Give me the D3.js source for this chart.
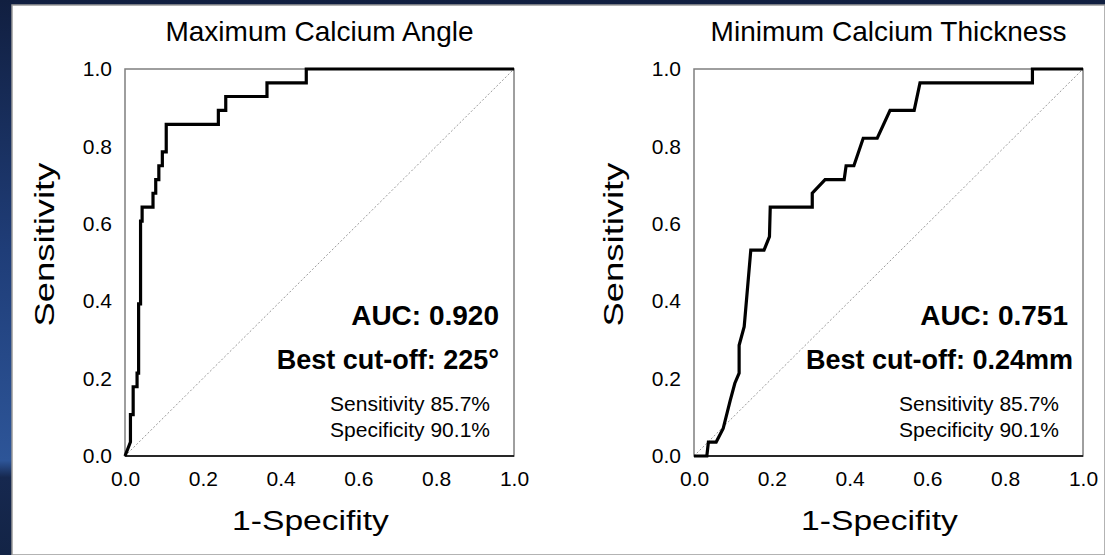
<!DOCTYPE html>
<html>
<head>
<meta charset="utf-8">
<script src="https://cdn.jsdelivr.net/npm/d3@7"></script>
<style>
  body { margin: 0; background: #13254a; }
  svg text { font-family: "Liberation Sans", Arial, sans-serif; fill: #000; }
</style>
</head>
<body>
<div id="chart"></div>
<script>
//svg size
var svgWidth = 1105;
var svgHeight = 555;

//ROC curve for maximum calcium angle (1-specificity, sensitivity)
var angleFpr = [0, 0.014, 0.014, 0.021, 0.021, 0.031, 0.031, 0.035, 0.035, 0.040, 0.040, 0.044, 0.044, 0.072, 0.072, 0.079, 0.079, 0.087, 0.087, 0.096, 0.096, 0.106, 0.106, 0.240, 0.240, 0.259, 0.259, 0.365, 0.365, 0.466, 0.466, 1];
var angleTpr = [0, 0.036, 0.107, 0.107, 0.179, 0.179, 0.214, 0.214, 0.393, 0.393, 0.607, 0.607, 0.643, 0.643, 0.679, 0.679, 0.714, 0.714, 0.750, 0.750, 0.786, 0.786, 0.857, 0.857, 0.893, 0.893, 0.929, 0.929, 0.964, 0.964, 1, 1];

//ROC curve for minimum calcium thickness
var thickFpr = [0, 0.033, 0.037, 0.057, 0.075, 0.093, 0.105, 0.116, 0.116, 0.129, 0.131, 0.146, 0.180, 0.194, 0.196, 0.304, 0.304, 0.337, 0.386, 0.391, 0.411, 0.435, 0.471, 0.504, 0.566, 0.581, 0.870, 0.870, 1];
var thickTpr = [0, 0, 0.036, 0.036, 0.071, 0.143, 0.188, 0.214, 0.286, 0.334, 0.357, 0.532, 0.532, 0.567, 0.643, 0.643, 0.679, 0.714, 0.714, 0.750, 0.750, 0.821, 0.821, 0.893, 0.893, 0.964, 0.964, 1, 1];

var chartTitles = ["Maximum Calcium Angle", "Minimum Calcium Thickness"];
var aucLabels = ["AUC: 0.920", "AUC: 0.751"];
var cutoffLabels = ["Best cut-off: 225°", "Best cut-off: 0.24mm"];
var sensLabels = ["Sensitivity 85.7%", "Sensitivity 85.7%"];
var specLabels = ["Specificity 90.1%", "Specificity 90.1%"];
var tickValues = [0, 0.2, 0.4, 0.6, 0.8, 1.0];

//plot boxes
var plotLefts = [125, 694];
var plotTop = 69;
var plotW = 389;
var plotH = 387;

var svg = d3.select("#chart")
  .append("svg")
  .attr("width", svgWidth)
  .attr("height", svgHeight);

//dark blue backdrop with lighter band on the left
var defs = svg.append("defs");
var grad = defs.append("linearGradient")
  .attr("id", "bg")
  .attr("x1", 0).attr("y1", 0).attr("x2", 0).attr("y2", 1);
grad.append("stop").attr("offset", "0%").attr("stop-color", "#111f40");
grad.append("stop").attr("offset", "45%").attr("stop-color", "#1f3d78");
grad.append("stop").attr("offset", "83%").attr("stop-color", "#2d5598");
grad.append("stop").attr("offset", "86%").attr("stop-color", "#16284f");
grad.append("stop").attr("offset", "100%").attr("stop-color", "#132446");

svg.append("rect")
  .attr("width", svgWidth)
  .attr("height", svgHeight)
  .attr("fill", "url(#bg)");

//white slide panel
svg.append("rect")
  .attr("x", 12)
  .attr("y", 5)
  .attr("width", svgWidth - 12)
  .attr("height", svgHeight - 5)
  .attr("fill", "#fff")
  .attr("stroke", "#9a9a9a")
  .attr("stroke-width", 1.5);

var series = [
  { fpr: angleFpr, tpr: angleTpr },
  { fpr: thickFpr, tpr: thickTpr }
];

series.forEach(function(s, i) {
  var g = svg.append("g")
    .attr("transform", `translate(${plotLefts[i]}, ${plotTop})`);

  var xScale = d3.scaleLinear().domain([0, 1]).range([0, plotW]);
  var yScale = d3.scaleLinear().domain([0, 1]).range([plotH, 0]);

  //frame
  g.append("rect")
    .attr("width", plotW)
    .attr("height", plotH)
    .attr("fill", "none")
    .attr("stroke", "#7f7f7f")
    .attr("stroke-width", 1.5);

  g.append("line")
    .attr("x1", 0).attr("x2", plotW)
    .attr("y1", plotH).attr("y2", plotH)
    .attr("stroke", "#000")
    .attr("stroke-width", 1.5);

  //chance diagonal
  g.append("line")
    .attr("x1", xScale(0)).attr("y1", yScale(0))
    .attr("x2", xScale(1)).attr("y2", yScale(1))
    .attr("stroke", "#9a9a9a")
    .attr("stroke-width", 1)
    .attr("stroke-dasharray", "2,2");

  //axes
  var bottomAxis = d3.axisBottom(xScale)
    .tickValues(tickValues)
    .tickFormat(d3.format(".1f"))
    .tickSize(0)
    .tickPadding(15);
  var leftAxis = d3.axisLeft(yScale)
    .tickValues(tickValues)
    .tickFormat(d3.format(".1f"))
    .tickSize(0)
    .tickPadding(13);

  var xa = g.append("g")
    .attr("transform", `translate(0, ${plotH})`)
    .call(bottomAxis);
  var ya = g.append("g").call(leftAxis);
  [xa, ya].forEach(function(a) {
    a.select(".domain").remove();
    a.selectAll("text")
      .style("font-size", "21px")
      .style("font-family", "'Liberation Sans', Arial, sans-serif")
      .attr("fill", "#111");
  });

  //roc line
  var pts = s.fpr.map(function(d, j) { return [d, s.tpr[j]]; });
  var line = d3.line()
    .x(d => xScale(d[0]))
    .y(d => yScale(d[1]));

  g.append("path")
    .datum(pts)
    .attr("d", line)
    .attr("fill", "none")
    .attr("stroke", "#000")
    .attr("stroke-width", 3.2)
    .attr("stroke-linejoin", "miter");

  //titles and axis labels
  g.append("text")
    .attr("x", plotW / 2)
    .attr("y", -28)
    .attr("text-anchor", "middle")
    .style("font-size", "28px")
    .text(chartTitles[i]);

  g.append("text")
    .attr("transform", `translate(-71, ${plotH / 2 - 18}) rotate(-90) scale(1.3, 1)`)
    .attr("text-anchor", "middle")
    .style("font-size", "28px")
    .text("Sensitivity");

  g.append("text")
    .attr("transform", `translate(${plotW / 2 - 9}, ${plotH + 74}) scale(1.2, 1)`)
    .attr("text-anchor", "middle")
    .style("font-size", "28px")
    .text("1-Specifity");

  //annotations
  g.append("text")
    .attr("x", plotW - 15)
    .attr("y", 256)
    .attr("text-anchor", "end")
    .style("font-size", "28px")
    .style("font-weight", "bold")
    .text(aucLabels[i]);

  g.append("text")
    .attr("x", i === 0 ? plotW - 15 : plotW - 10)
    .attr("y", 300)
    .attr("text-anchor", "end")
    .style("font-size", "27px")
    .style("font-weight", "bold")
    .text(cutoffLabels[i]);

  g.append("text")
    .attr("x", plotW - 24)
    .attr("y", 342)
    .attr("text-anchor", "end")
    .style("font-size", "21px")
    .text(sensLabels[i]);

  g.append("text")
    .attr("x", plotW - 24)
    .attr("y", 368)
    .attr("text-anchor", "end")
    .style("font-size", "21px")
    .text(specLabels[i]);
});
</script>
</body>
</html>
